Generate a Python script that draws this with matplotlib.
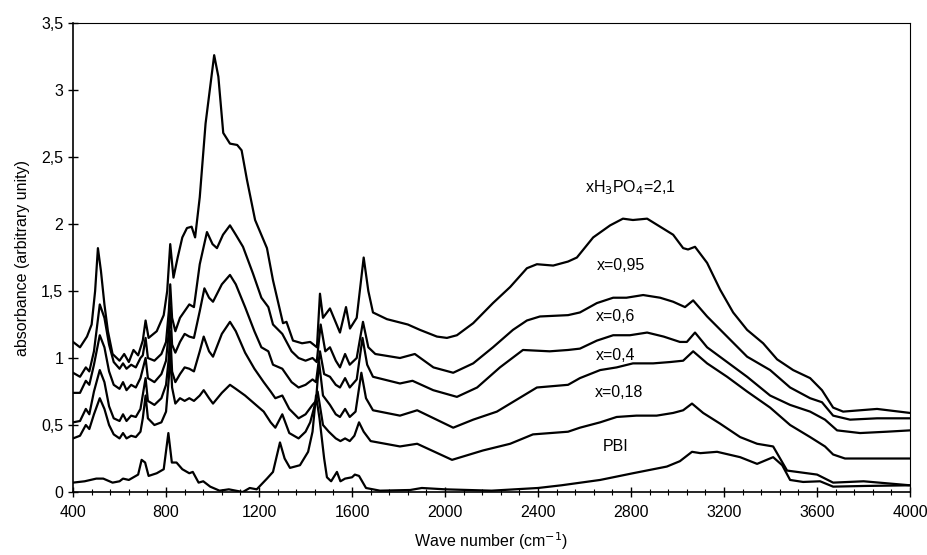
import matplotlib
matplotlib.use("Agg")
import matplotlib.pyplot as plt
from matplotlib.ticker import MultipleLocator, FuncFormatter

plt.rcParams['font.family'] = ['Liberation Sans', 'DejaVu Sans']

# (wave number, absorbance)
x_21 = [(400, 1.12), (430, 1.08), (460, 1.16), (480, 1.25), (495, 1.5), (507, 1.82), (520, 1.65),
        (535, 1.4), (550, 1.2), (570, 1.03), (600, 0.98), (620, 1.03), (640, 0.97), (660, 1.06),
        (680, 1.02), (700, 1.13), (712, 1.28), (725, 1.15), (760, 1.2), (790, 1.32), (805, 1.5),
        (818, 1.85), (832, 1.6), (850, 1.75), (870, 1.9), (890, 1.97), (910, 1.98), (925, 1.9),
        (945, 2.2), (970, 2.75), (1007, 3.26), (1025, 3.1), (1046, 2.68), (1075, 2.6), (1106, 2.59),
        (1125, 2.55), (1148, 2.33), (1183, 2.03), (1234, 1.82), (1260, 1.58), (1303, 1.26),
        (1318, 1.27), (1346, 1.13), (1385, 1.11), (1420, 1.12), (1449, 1.08), (1462, 1.48),
        (1475, 1.3), (1505, 1.37), (1548, 1.19), (1574, 1.38), (1591, 1.22), (1620, 1.3),
        (1650, 1.75), (1670, 1.5), (1690, 1.34), (1750, 1.29), (1840, 1.25), (1892, 1.21),
        (1965, 1.16), (2008, 1.15), (2051, 1.17), (2121, 1.26), (2206, 1.41), (2280, 1.53),
        (2352, 1.67), (2395, 1.70), (2465, 1.69), (2529, 1.72), (2567, 1.75), (2637, 1.90),
        (2710, 1.99), (2765, 2.04), (2808, 2.03), (2869, 2.04), (2925, 1.98), (2981, 1.92),
        (3024, 1.82), (3045, 1.81), (3075, 1.83), (3127, 1.71), (3183, 1.51), (3239, 1.34),
        (3299, 1.21), (3368, 1.11), (3428, 0.99), (3497, 0.91), (3570, 0.85), (3621, 0.76),
        (3669, 0.63), (3712, 0.60), (3858, 0.62), (4000, 0.59)]

x_095 = [(400, 0.89), (430, 0.86), (455, 0.93), (470, 0.90), (490, 1.05), (515, 1.40), (535, 1.30),
         (555, 1.10), (575, 0.97), (600, 0.92), (615, 0.96), (630, 0.92), (650, 0.95), (670, 0.93),
         (690, 1.0), (700, 1.02), (712, 1.15), (722, 1.0), (750, 0.98), (780, 1.03), (800, 1.12),
         (812, 1.35), (818, 1.55), (826, 1.3), (840, 1.2), (860, 1.3), (880, 1.35), (900, 1.40),
         (920, 1.38), (945, 1.70), (976, 1.94), (1000, 1.85), (1019, 1.82), (1045, 1.92),
         (1075, 1.99), (1100, 1.92), (1131, 1.83), (1174, 1.63), (1210, 1.45), (1240, 1.38),
         (1260, 1.25), (1300, 1.18), (1340, 1.05), (1370, 1.0), (1400, 0.98), (1430, 1.0),
         (1448, 0.97), (1465, 1.25), (1485, 1.05), (1505, 1.08), (1530, 0.98), (1548, 0.93),
         (1570, 1.03), (1590, 0.95), (1620, 1.0), (1647, 1.27), (1670, 1.08), (1700, 1.03),
         (1806, 1.0), (1870, 1.03), (1950, 0.93), (2035, 0.89), (2121, 0.96), (2206, 1.08),
         (2292, 1.21), (2352, 1.28), (2408, 1.31), (2529, 1.32), (2580, 1.34), (2653, 1.41),
         (2723, 1.45), (2780, 1.45), (2852, 1.47), (2925, 1.45), (2981, 1.42), (3032, 1.38),
         (3067, 1.43), (3127, 1.31), (3213, 1.16), (3299, 1.01), (3398, 0.91), (3484, 0.78),
         (3570, 0.70), (3621, 0.67), (3669, 0.57), (3742, 0.54), (3858, 0.55), (4000, 0.55)]

x_06 = [(400, 0.74), (430, 0.74), (455, 0.83), (470, 0.80), (490, 0.95), (515, 1.17), (535, 1.08),
        (555, 0.90), (575, 0.80), (600, 0.77), (615, 0.82), (630, 0.76), (650, 0.80), (670, 0.78),
        (690, 0.85), (712, 1.0), (722, 0.85), (750, 0.82), (780, 0.88), (800, 0.98), (812, 1.2),
        (818, 1.38), (826, 1.1), (840, 1.04), (860, 1.12), (880, 1.18), (900, 1.16), (920, 1.15),
        (945, 1.35), (965, 1.52), (985, 1.45), (1002, 1.42), (1040, 1.55), (1075, 1.62),
        (1100, 1.55), (1140, 1.38), (1180, 1.2), (1210, 1.08), (1240, 1.05), (1260, 0.95),
        (1300, 0.92), (1340, 0.82), (1370, 0.78), (1400, 0.80), (1430, 0.84), (1445, 0.82),
        (1462, 1.05), (1480, 0.88), (1505, 0.86), (1530, 0.80), (1548, 0.78), (1570, 0.85),
        (1590, 0.78), (1620, 0.84), (1645, 1.15), (1665, 0.95), (1690, 0.86), (1806, 0.81),
        (1860, 0.83), (1949, 0.76), (2051, 0.71), (2138, 0.78), (2236, 0.93), (2335, 1.06),
        (2450, 1.05), (2529, 1.06), (2580, 1.07), (2653, 1.13), (2723, 1.17), (2795, 1.17),
        (2869, 1.19), (2940, 1.16), (3010, 1.12), (3040, 1.12), (3075, 1.19), (3127, 1.08),
        (3213, 0.97), (3299, 0.86), (3398, 0.72), (3484, 0.65), (3570, 0.60), (3634, 0.54),
        (3686, 0.46), (3785, 0.44), (3900, 0.45), (4000, 0.46)]

x_04 = [(400, 0.52), (430, 0.53), (455, 0.62), (470, 0.58), (490, 0.75), (515, 0.91), (535, 0.82),
        (555, 0.64), (575, 0.55), (600, 0.53), (615, 0.58), (630, 0.53), (650, 0.57), (670, 0.56),
        (690, 0.62), (712, 0.85), (722, 0.68), (750, 0.65), (780, 0.70), (800, 0.80), (812, 1.0),
        (818, 1.2), (826, 0.9), (840, 0.82), (860, 0.88), (880, 0.93), (900, 0.92), (920, 0.90),
        (945, 1.05), (962, 1.16), (985, 1.05), (1002, 1.01), (1040, 1.18), (1075, 1.27),
        (1100, 1.20), (1140, 1.04), (1180, 0.92), (1220, 0.82), (1250, 0.75), (1270, 0.70),
        (1300, 0.72), (1330, 0.62), (1370, 0.55), (1400, 0.58), (1430, 0.65), (1445, 0.68),
        (1458, 0.97), (1475, 0.72), (1505, 0.65), (1530, 0.58), (1548, 0.56), (1570, 0.62),
        (1590, 0.56), (1615, 0.60), (1640, 0.89), (1660, 0.70), (1690, 0.61), (1806, 0.57),
        (1880, 0.61), (2035, 0.48), (2121, 0.54), (2223, 0.60), (2309, 0.69), (2395, 0.78),
        (2529, 0.80), (2580, 0.85), (2667, 0.91), (2738, 0.93), (2808, 0.96), (2895, 0.96),
        (2968, 0.97), (3024, 0.98), (3067, 1.05), (3127, 0.96), (3213, 0.86), (3299, 0.75),
        (3398, 0.63), (3484, 0.50), (3570, 0.41), (3634, 0.34), (3669, 0.28), (3720, 0.25),
        (4000, 0.25)]

x_018 = [(400, 0.40), (430, 0.42), (455, 0.50), (470, 0.47), (490, 0.58), (515, 0.70), (535, 0.62),
         (555, 0.50), (575, 0.43), (600, 0.40), (615, 0.44), (630, 0.40), (650, 0.42), (670, 0.41),
         (690, 0.45), (700, 0.55), (712, 0.72), (722, 0.55), (750, 0.50), (780, 0.52), (800, 0.60),
         (812, 0.85), (818, 1.05), (826, 0.78), (840, 0.66), (860, 0.70), (880, 0.68), (900, 0.70),
         (920, 0.68), (945, 0.72), (962, 0.76), (985, 0.70), (1002, 0.66), (1040, 0.74),
         (1075, 0.80), (1100, 0.77), (1140, 0.72), (1180, 0.66), (1220, 0.60), (1250, 0.52),
         (1270, 0.48), (1300, 0.58), (1330, 0.44), (1370, 0.40), (1400, 0.45), (1420, 0.52),
         (1440, 0.65), (1452, 0.75), (1475, 0.50), (1500, 0.45), (1530, 0.40), (1550, 0.38),
         (1570, 0.40), (1590, 0.38), (1610, 0.42), (1630, 0.52), (1650, 0.45), (1680, 0.38),
         (1806, 0.34), (1880, 0.36), (2030, 0.24), (2163, 0.31), (2280, 0.36), (2378, 0.43),
         (2529, 0.45), (2580, 0.48), (2667, 0.52), (2738, 0.56), (2823, 0.57), (2910, 0.57),
         (2981, 0.59), (3024, 0.61), (3062, 0.66), (3110, 0.59), (3183, 0.51), (3269, 0.41),
         (3342, 0.36), (3411, 0.34), (3471, 0.16), (3600, 0.13), (3669, 0.07), (3800, 0.08),
         (4000, 0.05)]

pbi = [(400, 0.07), (450, 0.08), (500, 0.10), (530, 0.10), (570, 0.07), (600, 0.08), (615, 0.10),
       (640, 0.09), (680, 0.13), (695, 0.24), (710, 0.22), (725, 0.12), (760, 0.14), (790, 0.17),
       (810, 0.44), (825, 0.22), (845, 0.22), (870, 0.17), (900, 0.14), (915, 0.15), (940, 0.07),
       (960, 0.08), (990, 0.04), (1030, 0.01), (1070, 0.02), (1100, 0.01), (1130, 0.0),
       (1160, 0.03), (1190, 0.02), (1234, 0.10), (1260, 0.15), (1290, 0.37), (1310, 0.25),
       (1333, 0.18), (1376, 0.2), (1411, 0.30), (1430, 0.45), (1445, 0.72), (1460, 0.55),
       (1480, 0.25), (1492, 0.11), (1510, 0.08), (1535, 0.15), (1550, 0.08), (1570, 0.10),
       (1600, 0.11), (1612, 0.13), (1630, 0.12), (1660, 0.03), (1720, 0.01), (1850, 0.015),
       (1900, 0.03), (2000, 0.02), (2200, 0.01), (2400, 0.03), (2500, 0.05), (2667, 0.09),
       (2808, 0.14), (2954, 0.19), (3010, 0.23), (3062, 0.30), (3098, 0.29), (3170, 0.30),
       (3269, 0.26), (3342, 0.21), (3411, 0.26), (3450, 0.20), (3484, 0.09), (3540, 0.075),
       (3613, 0.08), (3669, 0.04), (3800, 0.045), (4000, 0.05)]

spectra = [x_21, x_095, x_06, x_04, x_018, pbi]

# curve labels (text, wave number, absorbance)
labels = [('xH$_3$PO$_4$=2,1', 2796, 2.27), ('x=0,95', 2757, 1.69), ('x=0,6', 2735, 1.31),
          ('x=0,4', 2735, 1.02), ('x=0,18', 2749, 0.74), ('PBI', 2735, 0.34)]

fig = plt.figure(figsize=(9.28, 5.55), dpi=100)
ax = fig.add_axes([0.0787, 0.1135, 0.902, 0.845])

for s in spectra:
    wn = [p[0] for p in s]
    ab = [p[1] for p in s]
    ax.plot(wn, ab, color='black', lw=1.6, solid_joinstyle='round')

for txt, wx, wy in labels:
    ax.text(wx, wy, txt, ha='center', va='center', fontsize=11.5)

ax.set_xlim(400, 4000)
ax.set_ylim(0, 3.5)
ax.xaxis.set_major_locator(MultipleLocator(400))
ax.xaxis.set_minor_locator(MultipleLocator(80))
ax.yaxis.set_major_locator(MultipleLocator(0.5))
ax.yaxis.set_major_formatter(FuncFormatter(lambda v, p: f'{v:g}'.replace('.', ',')))
ax.tick_params(axis='both', which='major', direction='inout', length=7, width=1, labelsize=11.5)
ax.tick_params(axis='x', which='minor', direction='inout', length=4, width=0.8)
ax.tick_params(axis='x', pad=6)

for side in ['top', 'right']:
    ax.spines[side].set_linewidth(0.8)
for side in ['left', 'bottom']:
    ax.spines[side].set_linewidth(1.2)

ax.set_xlabel('Wave number (cm$^{-1}$)', fontsize=11.5, labelpad=7)
ax.set_ylabel('absorbance (arbitrary unity)', fontsize=11.5, labelpad=8)

plt.savefig('out.png', dpi=100)
